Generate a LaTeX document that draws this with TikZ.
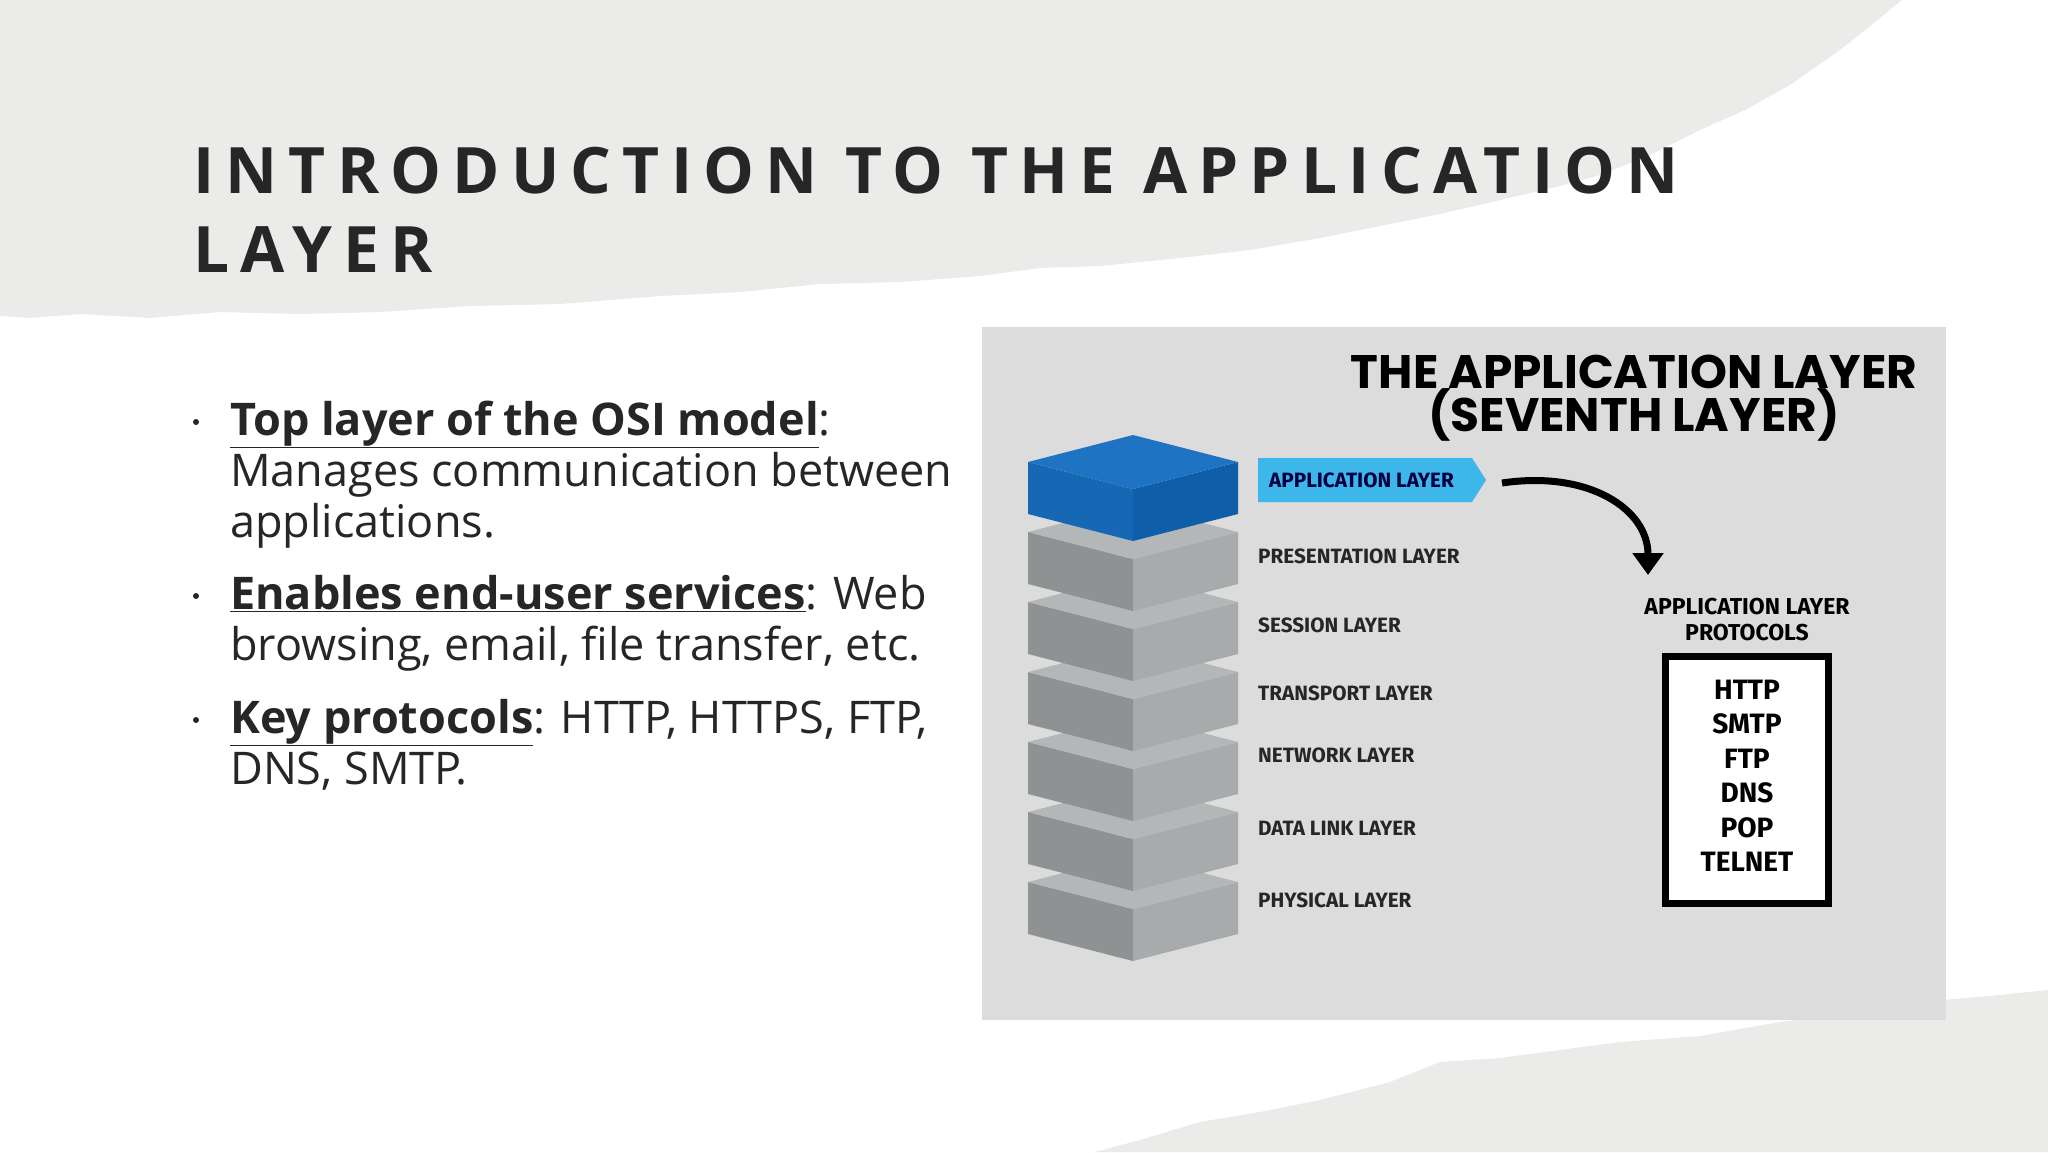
\documentclass[tikz,border=0pt]{standalone}
\usepackage{fontspec}
\setmainfont{Open Sans}
\newfontfamily\titlefont[LetterSpace=17.5]{Open Sans}
\newfontfamily\diafont{Fira Sans}
\newfontfamily\headfont{Poppins}
\usetikzlibrary{arrows.meta}
\definecolor{paper}{HTML}{EBEBEA}
\definecolor{panel}{HTML}{DCDCDC}
\definecolor{txt}{HTML}{262626}
\definecolor{gtop}{HTML}{B4B7B8}
\definecolor{gleft}{HTML}{8F9293}
\definecolor{gright}{HTML}{A8ABAC}
\definecolor{btop}{HTML}{1E74C2}
\definecolor{bleft}{HTML}{1668B5}
\definecolor{bright}{HTML}{0F5EAA}
\definecolor{cyanlab}{HTML}{3DB6EA}
\tikzset{
  bullettext/.style={anchor=base west,font=\fontsize{45}{51}\selectfont,text=txt,inner sep=0pt},
  titletext/.style={anchor=base west,inner sep=0pt,font=\titlefont\bfseries\fontsize{64}{80}\selectfont,text=txt},
  headtext/.style={anchor=base,inner sep=0pt,font=\headfont\bfseries\fontsize{47}{48}\selectfont},
  layerlab/.style={anchor=base west,font=\diafont\bfseries\fontsize{20.7}{22}\selectfont,text=black!85,inner sep=0pt},
  ptitletext/.style={anchor=base,inner sep=0pt,font=\diafont\bfseries\fontsize{23}{26}\selectfont},
  protlab/.style={anchor=base,font=\diafont\bfseries\fontsize{28}{30}\selectfont,inner sep=0pt},
  bulletdot/.style={circle,fill=txt,inner sep=0pt,minimum size=6pt},
}
\newcommand{\osiblock}[4]{% T, top, left, right
  \fill[#3] (1028,#1+27) -- (1133,#1+54) -- (1133,#1+106) -- (1028,#1+79) -- cycle;
  \fill[#4] (1238,#1+27) -- (1133,#1+54) -- (1133,#1+106) -- (1238,#1+79) -- cycle;
  \fill[#2] (1133,#1) -- (1238,#1+27) -- (1133,#1+54) -- (1028,#1+27) -- cycle;
}
\begin{document}
\begin{tikzpicture}[x=1pt,y=-1pt]
\useasboundingbox (0,0) rectangle (2048,1152);
\fill[white] (0,0) rectangle (2048,1152);
% torn paper top
\fill[paper] (0,0) -- (1902,0) -- (1880,18) -- (1840,50) -- (1790,85) -- (1745,110) -- (1700,130) -- (1650,155) -- (1600,175) -- (1560,186) -- (1500,200) -- (1440,214) -- (1380,226) -- (1320,238) -- (1250,250) -- (1180,258) -- (1100,266) -- (1040,268) -- (980,276) -- (900,282) -- (820,284) -- (740,292) -- (660,296) -- (560,304) -- (470,306) -- (380,312) -- (300,314) -- (220,312) -- (150,318) -- (80,314) -- (30,318) -- (0,316) -- cycle;
% torn paper bottom right
\fill[paper] (1095,1152) -- (1140,1140) -- (1200,1122) -- (1260,1112) -- (1320,1100) -- (1390,1082) -- (1440,1062) -- (1500,1058) -- (1560,1050) -- (1620,1042) -- (1700,1036) -- (1780,1022) -- (1850,1014) -- (1920,1002) -- (1990,996) -- (2048,990) -- (2048,1152) -- cycle;
% title
\node[titletext] (title1) at (193,193) {INTRODUCTION TO THE APPLICATION};
\node[titletext] (title2) at (193,272) {LAYER};
% bullets
\node[bullettext] (b1a) at (230,435) {\textbf{\underline{Top layer of the OSI model}}:};
\node[bullettext] (b1b) at (230,486) {Manages communication between};
\node[bullettext] (b1c) at (230,537) {applications.};
\node[bullettext] (b2a) at (230,609) {\textbf{\underline{Enables end-user services}}: Web};
\node[bullettext] (b2b) at (230,660) {browsing, email, file transfer, etc.};
\node[bullettext] (b3a) at (230,733) {\textbf{\underline{Key protocols}}: HTTP, HTTPS, FTP,};
\node[bullettext] (b3b) at (230,784) {DNS, SMTP.};
\node[bulletdot] (d1) at (196,422) {};
\node[bulletdot] (d2) at (196,596) {};
\node[bulletdot] (d3) at (196,720) {};
% panel
\fill[panel] (982,327) rectangle (1946,1020);
\node[headtext] (head1) at (1634,388) {THE APPLICATION LAYER};
\node[headtext] (head2) at (1634,431) {(SEVENTH LAYER)};
% stack
\osiblock{855}{gtop}{gleft}{gright}
\osiblock{785}{gtop}{gleft}{gright}
\osiblock{715}{gtop}{gleft}{gright}
\osiblock{645}{gtop}{gleft}{gright}
\osiblock{575}{gtop}{gleft}{gright}
\osiblock{505}{gtop}{gleft}{gright}
\osiblock{435}{btop}{bleft}{bright}
% application label
\fill[cyanlab] (1258,458) -- (1472,458) -- (1486,480) -- (1472,502) -- (1258,502) -- cycle;
\node[layerlab,text=black!75!blue] (lapp) at (1269,487) {APPLICATION LAYER};
\node[layerlab] (lpre) at (1258,563) {PRESENTATION LAYER};
\node[layerlab] (lses) at (1258,632) {SESSION LAYER};
\node[layerlab] (ltra) at (1258,700) {TRANSPORT LAYER};
\node[layerlab] (lnet) at (1258,762) {NETWORK LAYER};
\node[layerlab] (ldat) at (1258,835) {DATA LINK LAYER};
\node[layerlab] (lphy) at (1258,907) {PHYSICAL LAYER};
% arrow
\coordinate (as) at (1502,483);
\coordinate (ae) at (1648,575);
\draw[line width=7pt,-{Triangle[length=22pt,width=30pt]}] (as) .. controls (1590,470) and (1648,510) .. (ae);
% protocols
\node[ptitletext] (pt1) at (1747,614) {APPLICATION LAYER};
\node[ptitletext] (pt2) at (1747,640) {PROTOCOLS};
\node[draw=black,line width=7pt,fill=white,minimum width=163pt,minimum height=247pt] (pbox) at (1747,779.5) {};
\foreach \t/\y/\n in {HTTP/699/p1,SMTP/733/p2,FTP/768/p3,DNS/802/p4,POP/837/p5,TELNET/871/p6}
  \node[protlab] (\n) at (1747,\y) {\t};
\end{tikzpicture}
\end{document}
